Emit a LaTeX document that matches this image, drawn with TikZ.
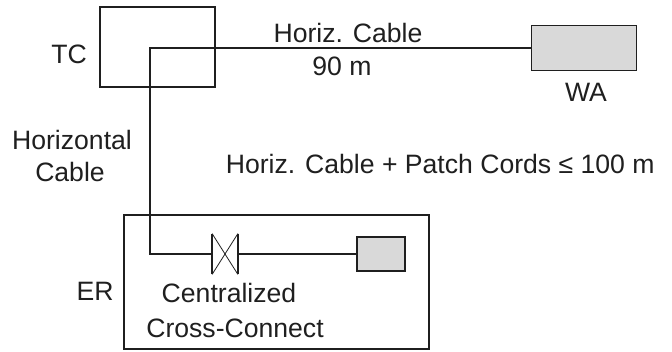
\documentclass[tikz,border=0pt]{standalone}
\usepackage{fontspec}
\setmainfont{Liberation Sans}
\usetikzlibrary{calc}

\begin{document}
\begin{tikzpicture}[x=1pt, y=-1pt, line width=1.7pt, black!88,
    lbl/.style={inner sep=0pt, anchor=base, font=\fontsize{26.6}{30}\selectfont},
    outlet/.style={draw, fill=black!15, inner sep=0pt}]
  \useasboundingbox (0,0) rectangle (672,351);

  % rooms: telecom closet and equipment room
  \draw (100,7) rectangle (215,87);
  \draw (124,215) rectangle (429,349);

  % work area and the box in the ER
  \node[outlet, minimum width=105pt, minimum height=45pt] (wa)  at (584,48) {};
  \node[outlet, minimum width=48pt,  minimum height=34pt] (hub) at (381,254) {};

  % cross-connect between the two bars
  \node[inner sep=0pt, minimum width=24pt, minimum height=39pt] (xc) at (225,254) {};
  \draw (xc.north west) -- (xc.south west);
  \draw (xc.north east) -- (xc.south east);
  \draw[line width=0.8pt] (xc.north west) -- (xc.south east);
  \draw[line width=0.8pt] (xc.south west) -- (xc.north east);

  % cable run: WA -> TC corner -> down into ER
  \coordinate (tcbend) at (150,48);
  \coordinate (erbend) at (150,254);
  \draw (wa.west) -- (tcbend) -- (erbend) -- (xc.west);
  \draw (xc.east) -- (hub.west);

  \node[lbl] (tc)   at (69,63)  {TC};
  \node[lbl] (hc1)  at (72,149) {Horizontal};
  \node[lbl] (hc2)  at (70,181) {Cable};
  \node[lbl] (top1) at (348,42) {Horiz. Cable};
  \node[lbl] (top2) at (342,75) {90 m};
  \node[lbl] (walbl) at (586,101) {WA};
  \node[lbl, anchor=base west] (rule) at (225,173) {Horiz. Cable + Patch Cords ≤ 100 m};
  \node[lbl] (er)   at (95,300) {ER};
  \node[lbl] (cc1)  at (229,302) {Centralized};
  \node[lbl] (cc2)  at (235,337) {Cross-Connect};
\end{tikzpicture}
\end{document}
